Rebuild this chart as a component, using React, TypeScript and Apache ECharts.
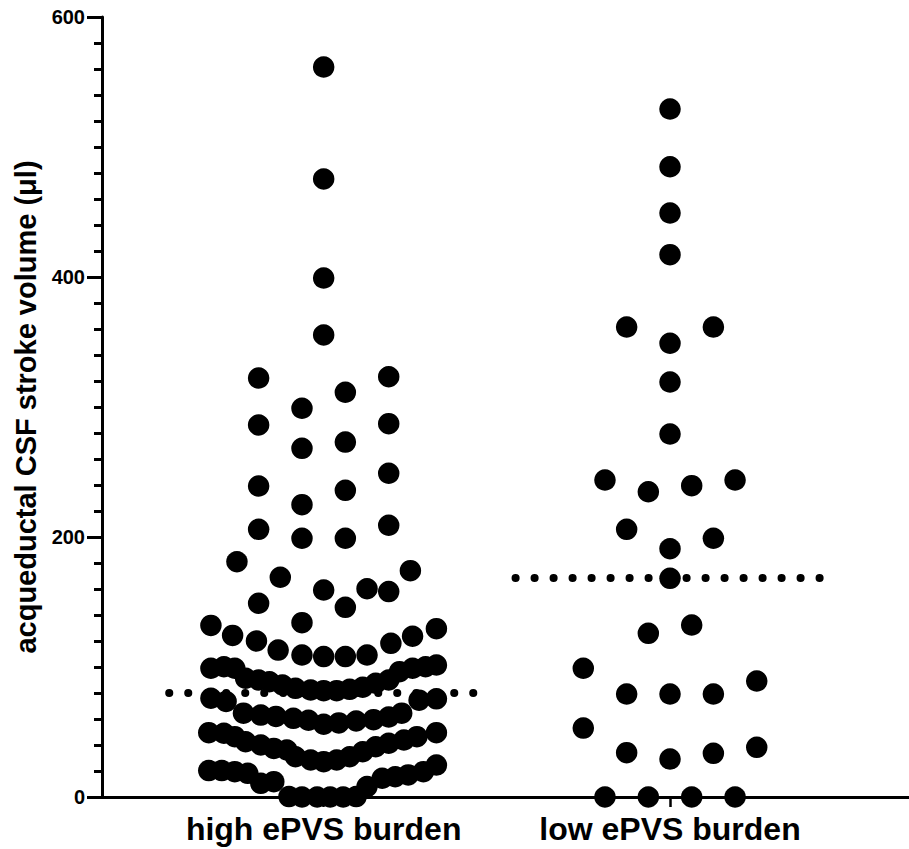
import React, { useEffect, useRef } from "react";
import * as echarts from "echarts";

// Categories (x positions 0 and 1)
const categories = ["high ePVS burden", "low ePVS burden"];

// Medians (dotted lines)
const medians = [80, 168.5];

// High ePVS burden group: values and beeswarm offsets (in dot widths)
const highValues = [
  561.5, 475.4, 399.2, 355.4, 322.3, 323.3, 311.3, 299, 286.2, 287.2, 268.2, 273,
  249, 239.2, 235.9, 224.9, 205.9, 209, 199, 199, 181, 174.1, 169, 159.2, 160.2,
  158, 149, 145.9, 134.1,
  // row ~110-130
  132, 124.3, 120, 113, 109.2, 108, 108, 109.2, 118.2, 123.7, 129.5,
  // row ~80-100
  99, 100.2, 99, 91.3, 90, 88.7, 86.2, 83.6, 82.3, 81.8, 81.8, 82.8, 84.4, 87.5,
  90, 96.4, 99, 100.2, 101.5,
  // row ~55-76
  76, 73.5, 64.5, 63, 62, 60.5, 59, 56, 57, 58.5, 59.5, 61.5, 64.5, 74.5, 75.5,
  // row ~27-50
  49.5, 49, 46.4, 42.5, 40, 37.4, 36.2, 31, 28.5, 27.2, 28.5, 31, 34.8, 38.7,
  41.3, 43.8, 46.4, 49.5,
  // row ~0-25
  20.3, 20.3, 19.5, 18.2, 10.5, 11.8, 0.3, 0, 0, 0, 0, 0.3, 8, 14.4, 15.6, 17,
  19.5, 24.6,
];
const highSlots = [
  0, 0, 0, 0, -3, 3, 1, -1, -3, 3, -1, 1,
  3, -3, 1, -1, -3, 3, -1, 1, -4, 4, -2, 0, 2,
  3, -3, 1, -1,
  -5.2, -4.2, -3.1, -2.1, -1.0, 0, 1.0, 2.0, 3.1, 4.1, 5.2,
  -5.2, -4.6, -4.1, -3.6, -3.0, -2.5, -1.9, -1.3, -0.6, 0, 0.6, 1.2, 1.8, 2.4,
  3.0, 3.5, 4.1, 4.7, 5.2,
  -5.2, -4.5, -3.7, -2.9, -2.2, -1.4, -0.7, 0, 0.7, 1.5, 2.3, 3.0, 3.6, 4.4, 5.2,
  -5.3, -4.6, -4.1, -3.6, -2.9, -2.3, -1.7, -1.3, -0.6, 0, 0.6, 1.2, 1.8, 2.4,
  3.0, 3.7, 4.3, 5.2,
  -5.3, -4.7, -4.1, -3.5, -2.9, -2.3, -1.6, -1.0, -0.3, 0.3, 0.9, 1.5, 2.0, 2.7,
  3.3, 3.9, 4.6, 5.2,
];

// Low ePVS burden group
const lowValues = [
  529.2, 484.8, 449.2, 417.2, 361.5, 361.5, 349, 319.2, 279.2, 243.8, 234.8,
  239.5, 243.8, 205.9, 199, 191, 168.2, 132.3, 125.9, 99, 89.2, 79.2, 79.2, 79.2,
  53, 34.1, 29.2, 33.6, 38.2, 0, 0, 0, 0,
];
const lowSlots = [
  0, 0, 0, 0, -2, 2, 0, 0, 0, -3, -1,
  1, 3, -2, 2, 0, 0, 1, -1, -4, 4, -2, 0, 2,
  -4, -2, 0, 2, 4, -3, -1, 1, 3,
];

const SLOT = 0.0626; // one dot width in category units
const FONT = "'Liberation Sans', Arial, Helvetica, sans-serif";

export default function App() {
  const ref = useRef<HTMLDivElement>(null);
  useEffect(() => {
    if (!ref.current) return;
    const chart = echarts.init(ref.current, null, { renderer: "svg" });
    const groups = [
      { values: highValues, slots: highSlots },
      { values: lowValues, slots: lowSlots },
    ];
    const medianSeries = medians.map((m, i) => ({
      type: "line",
      data: [
        [i - 0.446, m],
        [i + 0.435, m],
      ],
      symbol: "none",
      silent: true,
      z: 1,
      lineStyle: { color: "#000", width: 8, opacity: 1, type: [0.1, 18.9], cap: "round" },
    }));
    const scatterSeries = groups.map((g, i) => ({
      type: "scatter",
      data: g.values.map((v, k) => [i + g.slots[k] * SLOT, v]),
      symbol: "circle",
      symbolSize: 21.5,
      clip: false,
      silent: true,
      z: 3,
      itemStyle: { color: "#000", opacity: 1 },
    }));
    chart.setOption({
      animation: false,
      grid: {
        left: 102,
        right: 0,
        top: 17,
        bottom: 52,
        containLabel: false,
        outerBoundsMode: "none",
      },
      xAxis: {
        type: "value",
        min: -0.64,
        max: 1.69,
        splitLine: { show: false },
        axisLine: { show: true, onZero: false, lineStyle: { color: "#000", width: 3 } },
        axisTick: {
          show: true,
          customValues: [0, 1],
          length: 10,
          lineStyle: { color: "#000", width: 2.5 },
        },
        axisLabel: {
          show: true,
          customValues: [0, 1],
          formatter: (v: number) => categories[Math.round(v)] ?? "",
          color: "#000",
          fontFamily: FONT,
          fontWeight: "bold",
          fontSize: 32,
          margin: 16,
        },
      },
      yAxis: {
        type: "value",
        min: 0,
        max: 600,
        interval: 200,
        name: "acqueductal CSF stroke volume (μl)",
        nameLocation: "middle",
        nameGap: 58,
        nameRotate: 90,
        nameTextStyle: {
          color: "#000",
          fontFamily: FONT,
          fontWeight: "bold",
          fontSize: 29,
        },
        splitLine: { show: false },
        axisLine: { show: true, onZero: false, lineStyle: { color: "#000", width: 3 } },
        axisTick: { show: true, length: 15, lineStyle: { color: "#000", width: 3 } },
        minorTick: {
          show: true,
          splitNumber: 10,
          length: 8,
          lineStyle: { color: "#000", width: 3 },
        },
        minorSplitLine: { show: false },
        axisLabel: {
          color: "#000",
          fontFamily: FONT,
          fontWeight: "bold",
          fontSize: 20,
          margin: 17,
        },
      },
      series: [...medianSeries, ...scatterSeries],
    });
    return () => chart.dispose();
  }, []);
  return (
    <div
      ref={ref}
      style={{ position: "fixed", left: 0, top: 0, width: 909, height: 849, background: "#fff" }}
    />
  );
}
